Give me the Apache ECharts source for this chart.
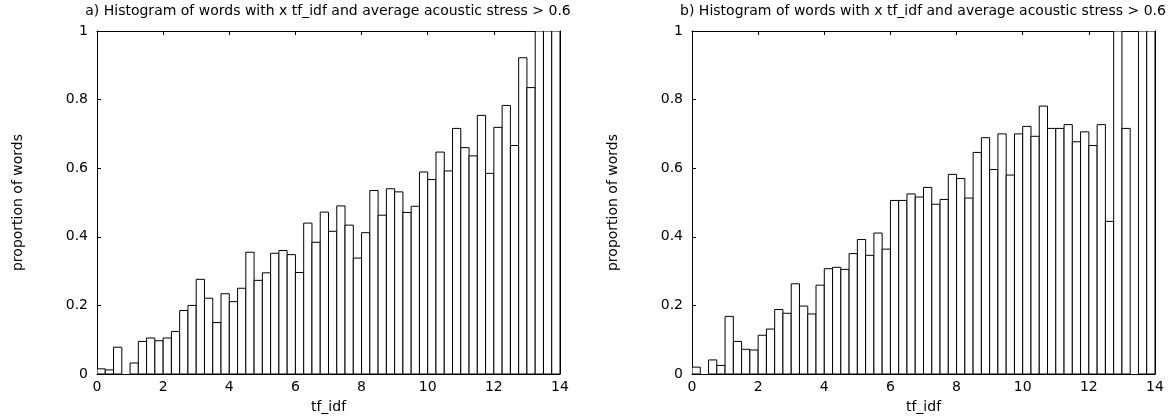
<!DOCTYPE html>
<html>
<head>
<meta charset="utf-8">
<script src="https://cdn.jsdelivr.net/npm/echarts@6/dist/echarts.min.js"></script>
<style>
html,body{margin:0;padding:0;background:#fff;}
#chart{width:1173px;height:416px;}
</style>
</head>
<body>
<div id="chart"></div>
<script>
// ---- data ----
const binStarts = [0,0.25,0.5,0.75,1,1.25,1.5,1.75,2,2.25,2.5,2.75,3,3.25,3.5,3.75,4,4.25,4.5,4.75,
  5,5.25,5.5,5.75,6,6.25,6.5,6.75,7,7.25,7.5,7.75,8,8.25,8.5,8.75,9,9.25,9.5,9.75,
  10,10.25,10.5,10.75,11,11.25,11.5,11.75,12,12.25,12.5,12.75,13,13.25,13.5,13.75];
const binWidth = 0.25;
const valuesA = [0.015,0.012,0.078,0,0.032,0.095,0.105,0.097,0.105,0.124,
  0.185,0.200,0.276,0.221,0.150,0.234,0.211,0.250,0.355,0.273,
  0.295,0.352,0.360,0.348,0.296,0.440,0.384,0.472,0.416,0.490,
  0.434,0.338,0.412,0.535,0.463,0.540,0.531,0.471,0.489,0.589,
  0.567,0.647,0.592,0.716,0.660,0.636,0.754,0.585,0.719,0.783,
  0.666,0.922,0.835,1,1,1];
const valuesB = [0.020,0,0.041,0.025,0.168,0.095,0.072,0.070,0.113,0.131,
  0.188,0.177,0.263,0.198,0.175,0.259,0.307,0.311,0.305,0.351,
  0.392,0.346,0.411,0.364,0.506,0.506,0.525,0.516,0.544,0.495,
  0.509,0.582,0.570,0.513,0.646,0.689,0.596,0.700,0.580,0.700,
  0.722,0.693,0.781,0.716,0.716,0.727,0.677,0.706,0.666,0.727,
  0.445,1,0.716,0,1,1];
const titleA = 'a) Histogram of words with x tf_idf and average acoustic stress > 0.6';
const titleB = 'b) Histogram of words with x tf_idf and average acoustic stress > 0.6';
const xName = 'tf_idf';
const yName = 'proportion of words';

// ---- chart ----
const FONT = 'DejaVu Sans';
const chart = echarts.init(document.getElementById('chart'), null, {renderer:'canvas'});
const grids = [
  {left:97, top:31, width:463, height:343, outerBoundsMode:'none', containLabel:false},
  {left:692, top:31, width:463, height:343, outerBoundsMode:'none', containLabel:false}
];
function xAx(gi, pos, show){
  return {
    type:'value', gridIndex:gi, position:pos, min:0, max:14, interval:2,
    name: show ? xName : '', nameLocation:'middle', nameGap:26,
    nameTextStyle:{fontFamily:FONT, fontSize:14, color:'#000'},
    axisLine:{show:true, onZero:false, lineStyle:{color:'#000', width:1}},
    axisTick:{show:true, inside:true, length:4, lineStyle:{color:'#000'}},
    axisLabel:{show:show, margin:6, fontFamily:FONT, fontSize:14, color:'#000'},
    splitLine:{show:false}
  };
}
function yAx(gi, pos, show){
  return {
    type:'value', gridIndex:gi, position:pos, min:0, max:1, interval:0.2,
    name: show ? yName : '', nameLocation:'middle', nameGap:72,
    nameTextStyle:{fontFamily:FONT, fontSize:14, color:'#000'},
    axisLine:{show:true, onZero:false, lineStyle:{color:'#000', width:1}},
    axisTick:{show:true, inside:true, length:4, lineStyle:{color:'#000'}},
    axisLabel:{show:show, margin:9, fontFamily:FONT, fontSize:14, color:'#000',
      formatter:function(v){ return String(Math.round(v*10)/10); }},
    splitLine:{show:false}
  };
}
function histSeries(xi, yi, vals){
  return {
    type:'custom', xAxisIndex:xi, yAxisIndex:yi, clip:true,
    data: binStarts.map((s,i)=>[s, vals[i]]),
    renderItem:function(params, api){
      const x0 = api.value(0), v = api.value(1);
      if(!v) return null;
      const p0 = api.coord([x0, v]);
      const p1 = api.coord([x0 + binWidth, 0]);
      return {
        type:'rect',
        shape:{x:p0[0], y:p0[1], width:p1[0]-p0[0], height:p1[1]-p0[1]},
        style:{fill:'#fff', stroke:'#000', lineWidth:1}
      };
    }
  };
}
chart.setOption({
  animation:false,
  backgroundColor:'#fff',
  title:[
    {text:titleA, left:328, top:4, textAlign:'center', padding:0,
     textStyle:{fontFamily:FONT, fontSize:14, fontWeight:'normal', color:'#000'}},
    {text:titleB, left:923, top:4, textAlign:'center', padding:0,
     textStyle:{fontFamily:FONT, fontSize:14, fontWeight:'normal', color:'#000'}}
  ],
  grid:grids,
  xAxis:[xAx(0,'bottom',true), xAx(0,'top',false), xAx(1,'bottom',true), xAx(1,'top',false)],
  yAxis:[yAx(0,'left',true), yAx(0,'right',false), yAx(1,'left',true), yAx(1,'right',false)],
  series:[histSeries(0,0,valuesA), histSeries(2,2,valuesB)]
});
</script>
</body>
</html>
